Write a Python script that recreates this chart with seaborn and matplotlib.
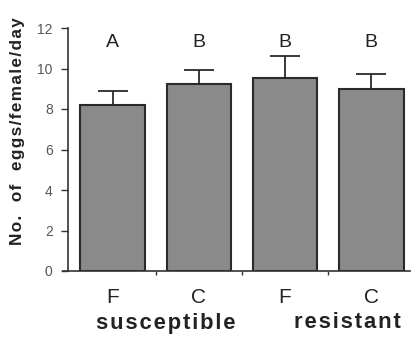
import matplotlib
matplotlib.use("Agg")
import matplotlib.pyplot as plt
import seaborn as sns
import pandas as pd

categories = ["susceptible F", "susceptible C", "resistant F", "resistant C"]
tick_labels = ["F", "C", "F", "C"]
means = [8.2, 9.23, 9.55, 8.99]
errors = [0.7, 0.7, 1.08, 0.72]
letters = ["A", "B", "B", "B"]
groups = ["susceptible", "resistant"]
ylabel = "No.  of  eggs/female/day"

sns.set_style("ticks")
plt.rcParams['font.family'] = ['Liberation Sans', 'DejaVu Sans']


def spaced(s, sep="\u200a"):
    return sep.join(s)


df = pd.DataFrame({"cat": categories, "mean": means})

fig = plt.figure(figsize=(4.11, 3.39), dpi=100)
ax = fig.add_axes([68/411, 1 - 271/339, (410 - 68)/411, (271 - 28)/339])

sns.barplot(data=df, x="cat", y="mean", color="#8a8a8a", width=0.75,
            edgecolor="#2a2a2a", linewidth=1.5, saturation=1, ax=ax, zorder=2)
ax.errorbar(range(len(means)), means, yerr=[[0]*len(errors), errors], fmt="none",
            ecolor="#2a2a2a", elinewidth=1.3, capsize=11, capthick=1.3, zorder=1)

ax.set_xlim(-0.52, 3.45)
ax.set_ylim(0, 12)
ax.set_yticks(range(0, 13, 2))
ax.tick_params(axis="y", labelsize=10, labelcolor="#555555", color="#333333",
               length=5, width=1, pad=6)
ax.set_xticks([0.5, 1.5, 2.5], minor=True)
ax.set_xticks(range(4))
ax.set_xticklabels(tick_labels, fontsize=15, color="#222222")
ax.tick_params(axis="x", which="major", length=0, pad=12)
ax.tick_params(axis="x", which="minor", length=3, width=1, color="#333333")
for s in ["top", "right"]:
    ax.spines[s].set_visible(False)
for s in ["left", "bottom"]:
    ax.spines[s].set_linewidth(1.2)
    ax.spines[s].set_color("#333333")
ax.spines["bottom"].set_bounds(-0.58, 3.45)
ax.set_xlabel("")
ax.set_ylabel("")
fig.text(18/411, 1 - 131/339, spaced(ylabel), rotation=90, ha="center", va="center",
         fontsize=12.3, fontweight="bold", color="#222222")

for i, t in enumerate(letters):
    ax.text(i, 11.3, t, ha="center", va="center", fontsize=14, color="#222222")

fig.text(166/411, 1 - 323/339, spaced(groups[0]), ha="center", va="center",
         fontsize=15.8, fontweight="bold", color="#222222")
fig.text(347/411, 1 - 323/339, spaced(groups[1]), ha="center", va="center",
         fontsize=15.8, fontweight="bold", color="#222222")

fig.savefig("out.png", dpi=100)
